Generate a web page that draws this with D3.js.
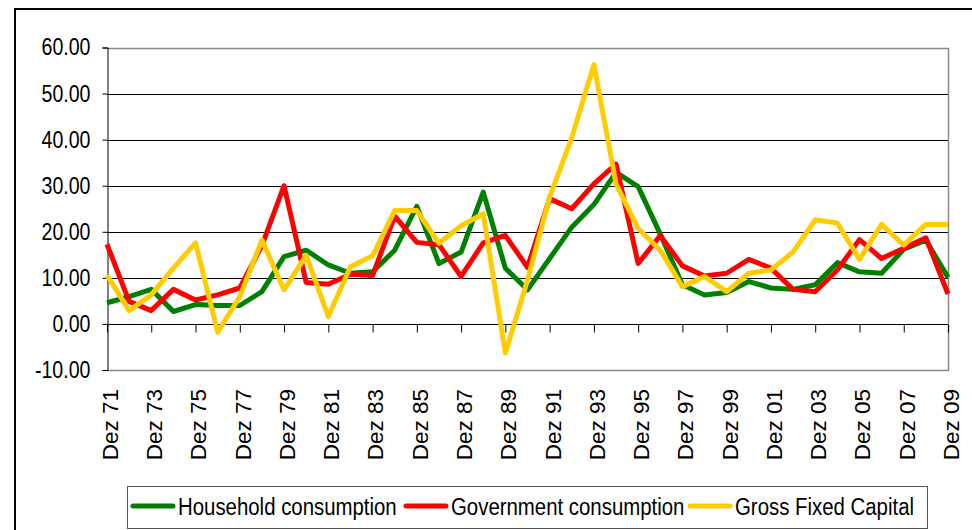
<!DOCTYPE html>
<html>
<head>
<meta charset="utf-8">
<script src="https://cdn.jsdelivr.net/npm/d3@7"></script>
<style>
  body { margin: 0; background: #fff; }
  svg { display: block; font-family: "Liberation Sans", Arial, sans-serif; }
</style>
</head>
<body>
<svg width="972" height="530"></svg>
<script>
var years = ['71','72','73','74','75','76','77','78','79','80','81','82','83','84','85','86','87','88','89','90',
             '91','92','93','94','95','96','97','98','99','00','01','02','03','04','05','06','07','08','09'];

var household = [4.6,5.9,7.5,2.7,4.2,4.0,4.0,7.0,14.6,16.0,
                 12.8,11.0,11.3,16.0,25.5,13.1,15.6,28.6,12.1,7.4,
                 14.2,21.0,25.9,32.9,29.8,19.5,8.5,6.3,6.8,9.2,
                 7.8,7.5,8.5,13.3,11.3,11.0,16.2,18.2,10.1];

var government = [17.3,4.9,2.9,7.5,5.2,6.3,7.8,17.0,30.0,9.0,
                  8.6,10.8,10.5,23.4,17.7,17.2,10.3,17.6,19.2,12.3,
                  27.2,25.0,30.4,34.7,13.1,19.2,12.6,10.4,11.0,14.0,
                  12.1,7.5,7.0,11.7,18.3,14.2,16.4,18.7,6.5];

var grossFixed = [10.6,2.9,6.3,12.1,17.6,-1.8,5.9,18.2,7.4,14.9,
                  1.6,12.4,14.8,24.6,24.6,17.5,21.3,23.9,-6.3,9.5,
                  27.5,40.4,56.3,30.4,20.7,16.0,8.1,10.3,7.0,11.0,
                  11.7,15.6,22.6,21.9,14.0,21.6,17.1,21.6,21.6];

var yTicks = [-10, 0, 10, 20, 30, 40, 50, 60];
var labelYears = years.filter(function (d, i) { return i % 2 === 0; });

var series = [
  {name: 'Household consumption', values: household, color: '#008000'},
  {name: 'Government consumption', values: government, color: '#ff0000'},
  {name: 'Gross Fixed Capital', values: grossFixed, color: '#ffcc00'}
];

var svg = d3.select('svg');
var fmt = d3.formatLocale({decimal: '.', thousands: ',', grouping: [3], currency: ['', ''], minus: '-'}).format('.2f');

// outer chart frame
svg.append('rect')
  .attr('x', 15).attr('y', 9).attr('width', 980).attr('height', 540)
  .attr('fill', 'none').attr('stroke', '#000').attr('stroke-width', 2);

var x = d3.scalePoint().domain(years).range([107, 948]);
var y = d3.scaleLinear().domain([-10, 60]).range([370, 47.5]);

// gridlines
svg.append('g').selectAll('line')
  .data(yTicks.filter(function (d) { return d > -10; }))
  .enter().append('line')
  .attr('x1', 107).attr('x2', 948)
  .attr('y1', function (d) { return Math.round(y(d)) + 0.5; })
  .attr('y2', function (d) { return Math.round(y(d)) + 0.5; })
  .attr('stroke', '#000').attr('stroke-width', 1);

// plot area border (right and bottom)
svg.append('path')
  .attr('d', 'M107,' + (Math.round(y(60)) + 0.5) + 'H948.5V' + (Math.round(y(-10)) + 0.5) + 'H107')
  .attr('fill', 'none').attr('stroke', '#888').attr('stroke-width', 1.5);

// y axis
var yAxis = svg.append('g')
  .attr('transform', 'translate(107.5,0)')
  .call(d3.axisLeft(y).tickValues(yTicks).tickSize(5).tickPadding(12).tickFormat(fmt));
yAxis.select('.domain').attr('stroke', '#000');
yAxis.selectAll('.tick line').attr('stroke', '#000');
yAxis.selectAll('text')
  .attr('font-size', 19.6).attr('fill', '#000')
  .attr('font-family', '"Liberation Sans", Arial, sans-serif')
  .attr('transform', 'scale(1,1.19)');

// x axis ticks on the zero line
var xAxis = svg.append('g')
  .attr('transform', 'translate(0,' + (Math.round(y(0)) + 0.5) + ')')
  .call(d3.axisBottom(x).tickValues(labelYears).tickSize(8).tickFormat(function () { return ''; }));
xAxis.select('.domain').remove();
xAxis.selectAll('.tick line').attr('stroke', '#000');

// category labels below plot
svg.append('g').selectAll('text')
  .data(labelYears)
  .enter().append('text')
  .attr('transform', function (d) { return 'translate(' + (x(d) + 3) + ',389) rotate(-90)'; })
  .attr('text-anchor', 'end')
  .attr('dy', '0.35em')
  .attr('font-size', 22.5)
  .attr('fill', '#000')
  .text(function (d) { return 'Dez ' + d; });

// series lines
var line = d3.line()
  .x(function (d, i) { return x(years[i]); })
  .y(function (d) { return y(d); });

svg.append('g').selectAll('path')
  .data(series)
  .enter().append('path')
  .attr('d', function (s) { return line(s.values); })
  .attr('fill', 'none')
  .attr('stroke', function (s) { return s.color; })
  .attr('stroke-width', 5)
  .attr('stroke-linejoin', 'round');

// legend
var legend = svg.append('g');
legend.append('rect')
  .attr('x', 127.5).attr('y', 486.5).attr('width', 800).attr('height', 42)
  .attr('fill', '#fff').attr('stroke', '#555').attr('stroke-width', 1);

var legendX = [133, 406, 690];
var item = legend.selectAll('g.item')
  .data(series)
  .enter().append('g')
  .attr('class', 'item')
  .attr('transform', function (d, i) { return 'translate(' + legendX[i] + ',506)'; });
item.append('line')
  .attr('x1', 0).attr('x2', 40)
  .attr('stroke', function (d) { return d.color; })
  .attr('stroke-width', 5)
  .attr('stroke-linecap', 'round');
item.append('text')
  .attr('x', 45)
  .attr('dy', '0.35em')
  .attr('font-size', 20.4)
  .attr('fill', '#000')
  .attr('transform', 'scale(1,1.2)')
  .text(function (d) { return d.name; });
</script>
</body>
</html>
